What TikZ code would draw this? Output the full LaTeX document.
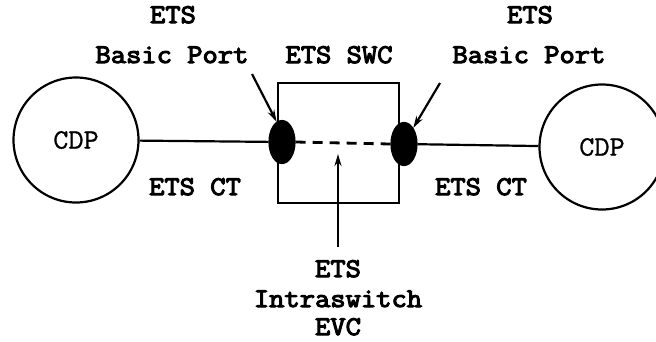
\documentclass[tikz,border=0pt]{standalone}
\usepackage{fontspec}
\newfontfamily\courbold[FakeBold=4,FakeStretch=1.1]{Latin Modern Mono}
\newfontfamily\courreg[FakeBold=1,FakeStretch=1.05]{Latin Modern Mono}
\usetikzlibrary{arrows.meta,shapes.geometric}
\begin{document}
\begin{tikzpicture}[x=1pt,y=-1pt,line width=2.2pt,
  lbl/.style={font=\fontsize{27}{27}\selectfont\courbold,inner sep=0pt,anchor=base},
  cdp/.style={circle,draw,minimum size=125pt,inner sep=0pt,font=\fontsize{28}{28}\selectfont\courreg},
  port/.style={ellipse,draw,fill,minimum width=25pt,minimum height=42pt,inner sep=0pt},
  arr/.style={-{Stealth[length=12pt,width=7pt]}}]
\useasboundingbox (0,0) rectangle (656,341);
% switch box
\node (swc) [draw,minimum width=121pt,minimum height=120pt,inner sep=0pt] at (338.5,143) {};
% CDPs
\node (cdpL) [cdp] at (76,140) {CDP};
\node (cdpR) [cdp] at (602,147) {CDP};
% ports
\node (pL) [port] at (282,142) {};
\node (pR) [port] at (404,144) {};
% connections
\draw (cdpL) -- (pL);
\draw (pR) -- (cdpR);
\draw[line width=2.8pt,dash pattern=on 10pt off 7pt] (pL.east) -- (pR.west);
% labels
\node (etsL) [lbl] at (173,23) {ETS};
\node (bpL) [lbl] at (172,63) {Basic Port};
\node (swcl) [lbl] at (339,63) {ETS SWC};
\node (etsR) [lbl] at (530,23) {ETS};
\node (bpR) [lbl] at (529,63) {Basic Port};
\node (ctL) [lbl] at (195,195) {ETS CT};
\node (ctR) [lbl] at (481,195) {ETS CT};
\node (evc1) [lbl] at (338,277) {ETS};
\node (evc2) [lbl] at (338,307) {Intraswitch};
\node (evc3) [lbl] at (338,335) {EVC};
% arrows
\coordinate (aL) at (252,74);
\coordinate (aR) at (440,83);
\coordinate (aB) at (338,247);
\coordinate (aBt) at (338,154);
\draw[arr] (aL) -- (pL.105);
\draw[arr] (aR) -- (pR.60);
\draw[arr] (aB) -- (aBt);
\end{tikzpicture}
\end{document}
